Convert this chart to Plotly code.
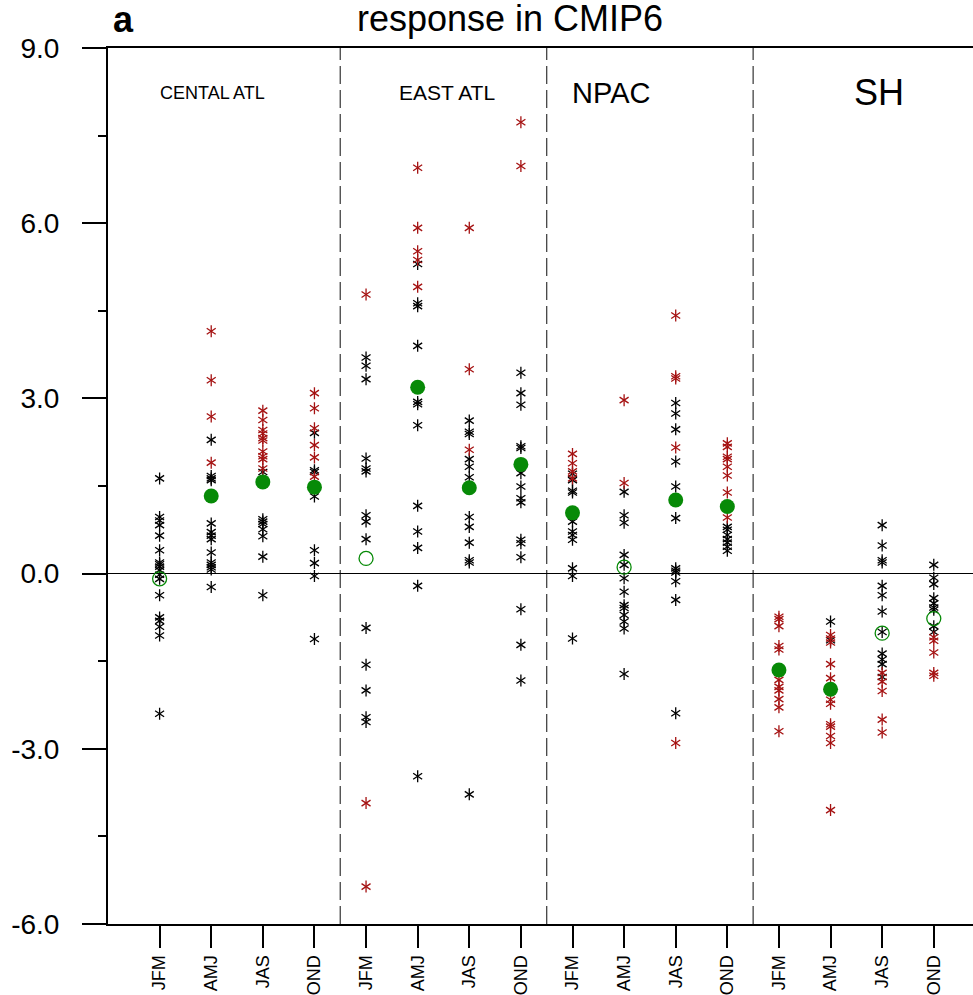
import plotly.graph_objects as go

seasons = ["JFM", "AMJ", "JAS", "OND"]
regions = ["CENTAL ATL", "EAST ATL", "NPAC", "SH"]
y_tick_vals = [-6, -3, 0, 3, 6, 9]
y_tick_text = ["-6.0", "-3.0", "0.0", "3.0", "6.0", "9.0"]

# individual model values (black = not significant, red = significant), per season
catl_black = [
    [1.63, 0.97, 0.91, 0.83, 0.65, 0.40, 0.19, 0.16, 0.12, 0.06, -0.02, -0.09, -0.37, -0.75, -0.81, -0.91, -1.06, -2.40],
    [2.29, 1.67, 1.63, 1.60, 0.86, 0.71, 0.65, 0.59, 0.36, 0.19, 0.15, 0.11, 0.07, -0.23],
    [1.74, 0.93, 0.89, 0.85, 0.76, 0.64, 0.29, -0.37],
    [2.41, 1.77, 1.74, 1.32, 0.40, 0.18, -0.04, -1.12],
]
catl_red = [
    [],
    [4.15, 3.31, 2.69, 1.90],
    [2.79, 2.63, 2.46, 2.40, 2.32, 2.28, 2.09, 2.01, 1.96, 1.80],
    [3.09, 2.83, 2.49, 2.20, 1.99, 1.66],
]
eatl_black = [
    [3.70, 3.56, 3.33, 1.97, 1.80, 1.75, 1.00, 0.89, 0.59, -0.93, -1.56, -2.00, -2.46, -2.54],
    [5.30, 4.63, 4.58, 3.90, 2.94, 2.90, 2.54, 1.16, 0.72, 0.44, -0.21, -3.47],
    [2.62, 2.43, 2.39, 1.96, 1.83, 1.65, 0.97, 0.80, 0.53, 0.23, 0.19, -3.78],
    [3.44, 3.09, 2.89, 2.18, 2.15, 1.72, 1.49, 1.29, 1.22, 0.58, 0.52, 0.28, -0.61, -1.22, -1.83],
]
eatl_red = [
    [4.78, -3.93, -5.36],
    [6.95, 5.92, 5.52, 5.37, 4.91],
    [5.92, 3.50, 2.12],
    [7.73, 6.98],
]
npac_black = [
    [1.71, 1.60, 1.42, 1.39, 0.89, 0.72, 0.66, 0.58, 0.09, -0.04, -1.11],
    [1.40, 1.00, 0.87, 0.32, 0.15, -0.08, -0.31, -0.54, -0.59, -0.71, -0.82, -0.94, -1.72],
    [2.92, 2.74, 2.47, 1.92, 1.49, 0.95, 0.09, 0.05, 0.02, -0.13, -0.45, -2.39],
    [0.80, 0.75, 0.66, 0.59, 0.53, 0.46, 0.39],
]
npac_red = [
    [2.05, 1.89, 1.75, 1.63],
    [2.97, 1.55],
    [4.42, 3.38, 3.34, 2.16, -2.90],
    [2.23, 2.17, 2.00, 1.96, 1.83, 1.68, 1.39, 0.96],
]
sh_black = [
    [],
    [-0.82, -1.14],
    [0.83, 0.48, 0.23, 0.19, -0.21, -0.37, -0.65, -1.00, -1.37, -1.47, -1.55, -1.77],
    [0.15, -0.07, -0.18, -0.42, -0.51, -0.58, -0.62, -0.90, -1.00],
]
sh_red = [
    [-0.74, -0.78, -0.90, -1.24, -1.30, -1.82, -1.94, -2.00, -2.15, -2.29, -2.70],
    [-1.05, -1.11, -1.18, -1.55, -1.79, -2.16, -2.23, -2.58, -2.62, -2.78, -2.90, -4.05],
    [-1.70, -1.85, -2.01, -2.50, -2.72],
    [-1.09, -1.15, -1.35, -1.70, -1.75],
]

# multi-model mean per column and whether it is significant (filled)
mean_values = [-0.09, 1.33, 1.57, 1.48, 0.26, 3.19, 1.47, 1.87,
               1.04, 0.11, 1.26, 1.15, -1.65, -1.98, -1.02, -0.77]
mean_significant = [False, True, True, True, False, True, True, True,
                    True, False, True, True, True, True, False, False]

black_sets = [catl_black, eatl_black, npac_black, sh_black]
red_sets = [catl_red, eatl_red, npac_red, sh_red]

RED = "#a51212"
BLACK = "#000000"
GREEN = "#078a07"
FONT = "Liberation Sans, Arial, Helvetica, sans-serif"


def collect(sets):
    xs, ys = [], []
    for r, reg in enumerate(sets):
        for s, vals in enumerate(reg):
            for v in vals:
                xs.append(r * 4 + s + 1)
                ys.append(v)
    return xs, ys


fig = go.Figure()

for sets, col in [(black_sets, BLACK), (red_sets, RED)]:
    xs, ys = collect(sets)
    for sym in ["y-up-open", "y-down-open"]:
        fig.add_trace(go.Scatter(
            x=xs, y=ys, mode="markers", showlegend=False, hoverinfo="skip",
            marker=dict(symbol=sym, size=7.5, color=col,
                        line=dict(color=col, width=1.3)),
        ))

mx = list(range(1, 17))
fig.add_trace(go.Scatter(
    x=[x for x, s in zip(mx, mean_significant) if s],
    y=[v for v, s in zip(mean_values, mean_significant) if s],
    mode="markers", showlegend=False,
    marker=dict(symbol="circle", size=15, color=GREEN, line=dict(width=0)),
))
fig.add_trace(go.Scatter(
    x=[x for x, s in zip(mx, mean_significant) if not s],
    y=[v for v, s in zip(mean_values, mean_significant) if not s],
    mode="markers", showlegend=False,
    marker=dict(symbol="circle-open", size=14, color=GREEN, line=dict(color=GREEN, width=1.3)),
))

for xd in [4.5, 8.5, 12.5]:
    fig.add_shape(type="line", xref="x", yref="y", x0=xd, x1=xd, y0=-6, y1=9,
                  line=dict(color="#444444", width=1.3, dash="18px,6px"), layer="below")

label_x = [2.03, 6.56, 9.74, 14.94]
label_sizes = [18, 21, 29, 36]
for name, lx, fs in zip(regions, label_x, label_sizes):
    fig.add_annotation(x=lx, y=8.23, xref="x", yref="y", text=name, showarrow=False,
                       font=dict(family=FONT, size=fs, color="black"),
                       xanchor="center", yanchor="middle")

fig.add_annotation(x=0.465, y=1.034, xref="paper", yref="paper", text="response in CMIP6",
                   showarrow=False, font=dict(family=FONT, size=36, color="black"),
                   xanchor="center", yanchor="middle")
fig.add_annotation(x=0.018, y=1.033, xref="paper", yref="paper", text="<b>a</b>",
                   showarrow=False, font=dict(family=FONT, size=36, color="black"),
                   xanchor="center", yanchor="middle")

fig.update_layout(
    width=973, height=995,
    margin=dict(l=108, r=0, t=48, b=71, autoexpand=False),
    plot_bgcolor="white", paper_bgcolor="white",
    font=dict(family=FONT, color="black"),
    showlegend=False,
)
fig.update_xaxes(
    range=[0, 16.76], tickvals=mx, ticktext=seasons * 4, tickangle=-90,
    ticks="outside", ticklen=22, tickwidth=1.5, tickcolor="black",
    showline=True, linecolor="black", linewidth=2, mirror=True,
    showgrid=False, zeroline=False, tickfont=dict(size=18, family=FONT),
)
fig.update_yaxes(
    range=[-6, 9], tickvals=y_tick_vals, ticktext=y_tick_text,
    ticks="outside", ticklen=24, tickwidth=2, tickcolor="black",
    minor=dict(dtick=1.5, tick0=0, ticks="outside", ticklen=8, tickwidth=1.5, tickcolor="black"),
    showline=True, linecolor="black", linewidth=2, mirror=False,
    showgrid=False, zeroline=True, zerolinecolor="black", zerolinewidth=1,
    tickfont=dict(size=28, family=FONT), ticklabelstandoff=17,
)

fig.write_html("out.html", config={"displayModeBar": False},
               post_script="document.body.style.margin='0';document.body.style.overflow='hidden';")
